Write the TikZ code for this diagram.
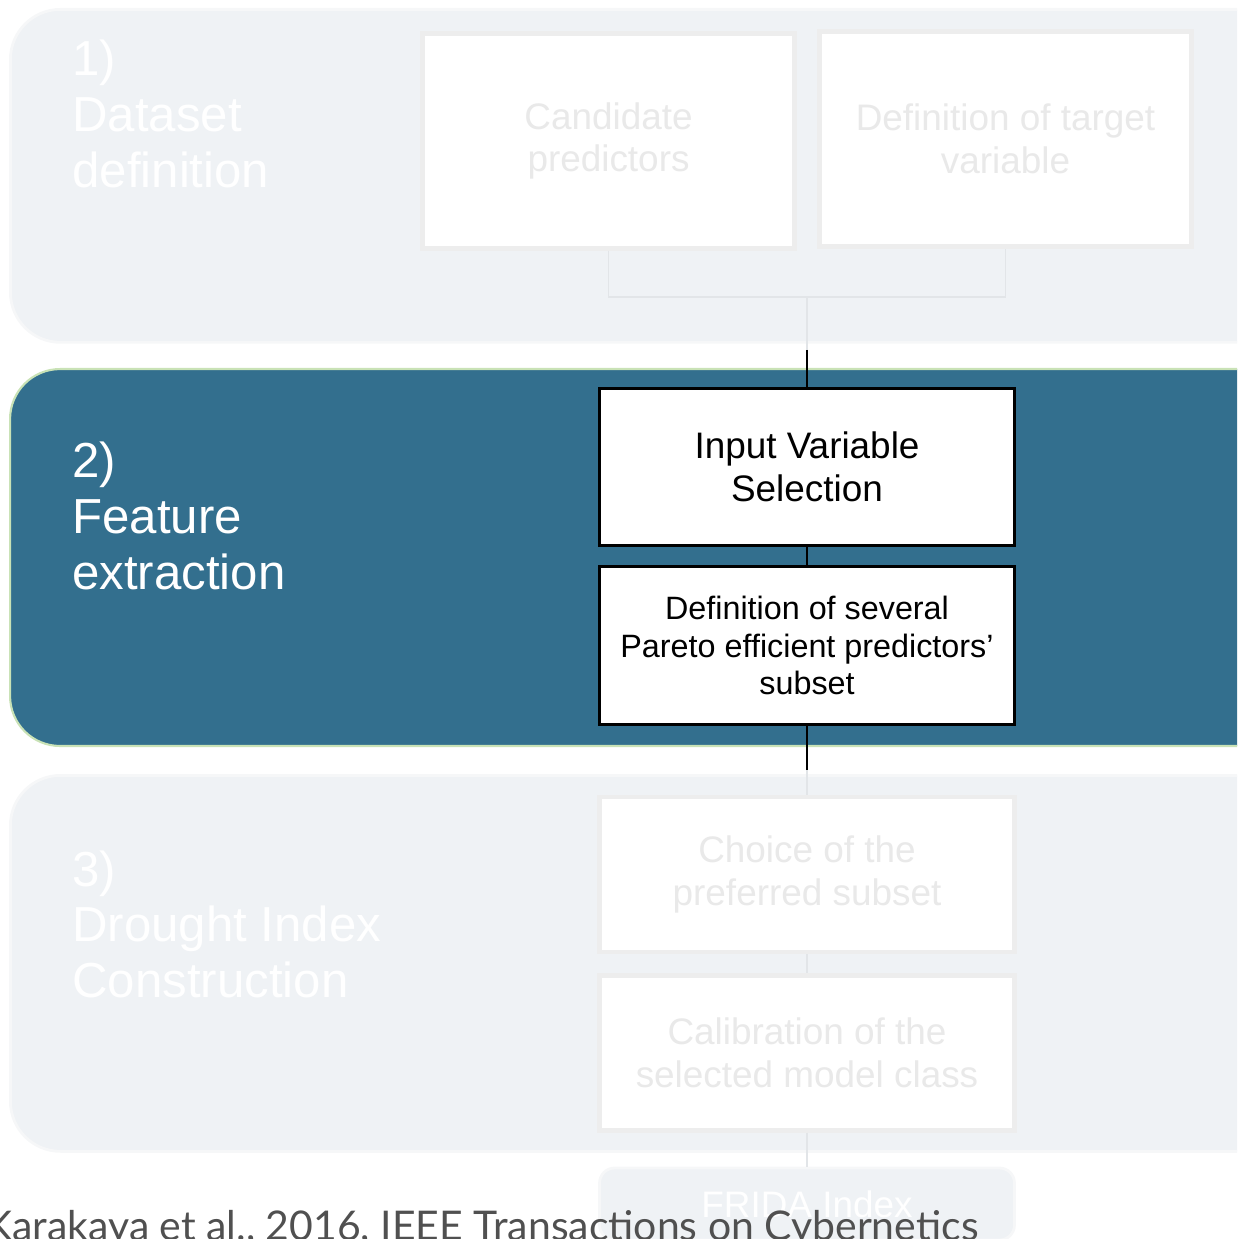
\documentclass[tikz,border=0pt]{standalone}
\usepackage{fontspec}
\setmainfont{Liberation Sans}
\newfontfamily\capfont{Lato}
\usepackage{xcolor}
\usetikzlibrary{positioning}
\definecolor{paleback}{HTML}{EFF2F5}
\definecolor{paleedge}{HTML}{F6F7F8}
\definecolor{tealback}{HTML}{336F8E}
\definecolor{greenedge}{HTML}{C9E2B6}
\definecolor{fadeedge}{HTML}{EDEDED}
\definecolor{fadetext}{HTML}{E9E9E9}
\definecolor{fadeline}{HTML}{E2E5E8}
\definecolor{captext}{HTML}{505050}

\begin{document}
\begin{tikzpicture}[x=0.02cm, y=-0.02cm,
  panel/.style={rounded corners=1cm, anchor=north west, inner sep=0pt,
                minimum width=26cm},
  phase/.style={anchor=north west, align=left, inner sep=0pt,
                font=\fontsize{28}{31.7}\selectfont},
  faded/.style={draw=fadeedge, line width=2.8pt, fill=white, text=fadetext,
                minimum width=7.3cm, minimum height=4.3cm, align=center,
                font=\fontsize{21}{24.4}\selectfont},
  active/.style={draw=black, line width=1.5pt, fill=white, text=black,
                 minimum width=8.3cm, minimum height=3.15cm, align=center},
  dimline/.style={draw=fadeline, line width=0.6pt},
  darkline/.style={draw=black, line width=0.9pt}
]
\useasboundingbox (0,0) rectangle (1237,1239);
\clip (0,0) rectangle (1237,1239);

% phase panels
\node[panel, fill=paleback, draw=paleedge, line width=1.6pt,
      minimum height=6.66cm] (P1) at (9,8) {};
\node[panel, fill=tealback, draw=greenedge, line width=1.2pt,
      minimum height=7.54cm] (P2) at (9,368) {};
\node[panel, fill=paleback, draw=paleedge, line width=1.6pt,
      minimum height=7.52cm] (P3) at (9,774) {};

\node[phase, text=white!98!paleback] (L1) at (72,40) {1)\\Dataset\\definition};
\node[phase, text=white] (L2) at (72,442) {2)\\Feature\\extraction};
\node[phase, text=white!98!paleback] (L3) at (72,850) {3)\\Drought Index\\Construction};

% step 1
\node[faded, minimum width=7.45cm] (CP) at (608.5,141) {Candidate\\predictors};
\node[faded, minimum width=7.45cm] (TV) at (1005.5,139) {Definition of target\\variable};
\coordinate (J1) at (807,297);
\coordinate (K1) at (807,350);

% step 2
\node[active, font=\fontsize{21}{24.4}\selectfont] (IVS) at (807,467)
  {Input Variable\\Selection};
\node[active, font=\fontsize{18.4}{21.3}\selectfont] (PS) at (807,645.5)
  {Definition of several\\Pareto efficient predictors’\\subset};
\coordinate (K2) at (807,770);

% step 3
\node[faded, minimum width=8.3cm, minimum height=3.1cm] (CS) at (807,874.5)
  {Choice of the\\preferred subset};
\node[faded, minimum width=8.3cm, minimum height=3.1cm] (CM) at (807,1053)
  {Calibration of the\\selected model class};
\node[draw=paleedge, line width=1.6pt, fill=paleback, rounded corners=0.3cm,
      minimum width=8.3cm, minimum height=1.44cm, text=white,
      font=\fontsize{21}{24.4}\selectfont] (FI) at (807,1204) {FRIDA Index};

% connectors
\draw[dimline] (CP.south) |- (J1) -| (TV.south);
\draw[dimline] (J1) -- (IVS.north);
\draw[darkline] (K1) -- (IVS.north);
\draw[darkline] (IVS) -- (PS);
\draw[darkline] (PS.south) -- (K2);
\draw[dimline] (K2) -- (CS.north);
\draw[dimline] (CS) -- (CM);
\draw[dimline] (CM) -- (FI);

\node[anchor=base west, inner sep=0pt, text=captext,
      font=\capfont\fontsize{23.3}{25}\selectfont] (REF) at (-15,1240)
  {Karakaya et al., 2016, IEEE Transactions on Cybernetics};
\end{tikzpicture}
\end{document}
